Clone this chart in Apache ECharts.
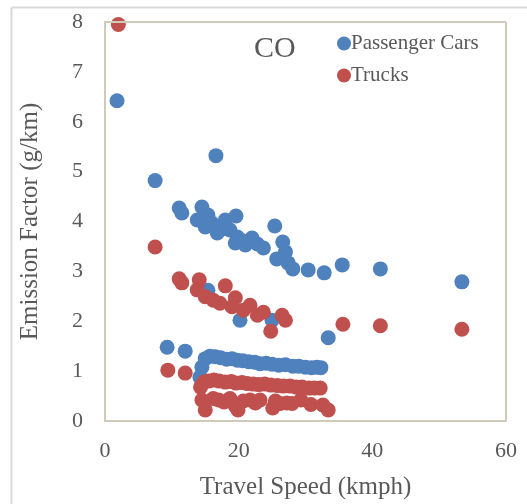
<!DOCTYPE html>
<html>
<head>
<meta charset="utf-8">
<script src="https://cdn.jsdelivr.net/npm/echarts@6/dist/echarts.min.js"></script>
<style>
  html, body { margin: 0; padding: 0; background: #fff; }
  #main { width: 527px; height: 504px; }
</style>
</head>
<body>
<div id="main"></div>
<script>
// axis ticks
var xTicks = [0, 20, 40, 60];
var yTicks = [0, 1, 2, 3, 4, 5, 6, 7, 8];

// Passenger Cars: [speed, emission factor]
var carsSpeed = [1.8, 7.5, 16.6, 11.1, 11.5, 14.5, 13.8, 15.4, 15.0, 16.0, 18.0, 19.6, 18.7, 16.8, 19.8,
  19.5, 21.0, 22.0, 23.7, 25.4, 26.6, 27.0, 25.7, 27.4, 28.1, 30.4, 32.8, 35.5, 41.2, 53.4,
  15.4, 20.2, 25.0, 33.4, 9.3, 12.0,
  14.2, 14.5, 15.0, 15.7, 16.5, 17.3, 18.2, 19.0, 19.8, 20.6, 21.5, 22.4, 23.2, 24.1, 25.0,
  26.0, 27.0, 28.1, 29.0, 30.0, 30.9, 31.7, 32.3,
  14.8, 17.5, 20.5, 22.8];
var carsEF = [6.42, 4.82, 5.32, 4.27, 4.17, 4.29, 4.03, 4.13, 3.89, 3.97, 4.03, 4.11, 3.83, 3.77, 3.69,
  3.57, 3.53, 3.67, 3.47, 3.91, 3.59, 3.39, 3.25, 3.17, 3.05, 3.03, 2.97, 3.13, 3.05, 2.79,
  2.62, 2.02, 2.02, 1.67, 1.48, 1.40,
  0.88, 1.08, 1.25, 1.30, 1.29, 1.27, 1.24, 1.25, 1.22, 1.21, 1.19, 1.18, 1.15, 1.16, 1.14,
  1.12, 1.13, 1.10, 1.10, 1.08, 1.07, 1.08, 1.07,
  4.05, 3.85, 3.62, 3.55];

// Trucks: [speed, emission factor]
var trucksSpeed = [2.0, 7.5, 35.6, 41.2, 53.4,
  11.1, 11.5, 14.1, 13.8, 18.0, 15.0, 16.2, 17.2, 19.5, 19.0, 21.7, 20.7, 23.7, 22.8, 26.5, 27.0, 24.8,
  9.4, 12.0,
  14.3, 14.8, 15.5, 16.3, 17.1, 18.0, 18.9, 19.6, 20.5, 21.3, 22.2, 23.0, 23.9, 24.8, 25.8,
  26.7, 27.7, 28.6, 29.5, 30.5, 31.3, 32.2,
  14.5, 15.0, 16.2, 17.0, 17.8, 18.7, 19.5, 19.9, 20.7, 21.7, 22.5, 23.2, 25.1, 25.5, 26.2,
  27.2, 28.0, 29.3, 30.8, 32.6, 33.4];
var trucksEF = [7.95, 3.49, 1.94, 1.91, 1.84,
  2.85, 2.77, 2.83, 2.63, 2.71, 2.49, 2.42, 2.36, 2.47, 2.29, 2.32, 2.22, 2.18, 2.12, 2.12, 2.02, 1.80,
  1.02, 0.96,
  0.68, 0.78, 0.80, 0.82, 0.80, 0.78, 0.79, 0.76, 0.77, 0.75, 0.74, 0.73, 0.74, 0.72, 0.71,
  0.70, 0.70, 0.68, 0.68, 0.66, 0.66, 0.66,
  0.42, 0.22, 0.45, 0.42, 0.38, 0.45, 0.30, 0.22, 0.40, 0.42, 0.36, 0.42, 0.26, 0.40, 0.35,
  0.36, 0.35, 0.42, 0.33, 0.32, 0.22];

function pairs(xs, ys) {
  return xs.map(function (x, i) { return [x, ys[i]]; });
}

var font = '"Liberation Serif", "Times New Roman", serif';
var frame = '#cfcbb8';
var txt = '#595959';
var W = 527, H = 504;
var grid = { left: 105, right: 21, top: 22, bottom: 83 };

var myChart = echarts.init(document.getElementById('main'));
myChart.setOption({
  animation: false,
  backgroundColor: '#fff',
  textStyle: { fontFamily: font },
  grid: { left: grid.left, right: grid.right, top: grid.top, bottom: grid.bottom, containLabel: false, outerBoundsMode: 'none' },
  title: {
    text: 'CO', left: 249, top: 29,
    textStyle: { fontFamily: font, fontSize: 30, fontWeight: 'normal', color: txt }
  },
  legend: {
    left: 332, top: 28, orient: 'vertical', itemGap: 11,
    icon: 'circle', itemWidth: 14, itemHeight: 14,
    textStyle: { fontFamily: font, fontSize: 21, color: txt, padding: [0, 0, 0, -5] },
    data: ['Passenger Cars', 'Trucks']
  },
  graphic: {
    elements: [
      // plot-area frame, top and right edges
      { type: 'line', silent: true, z: 100,
        shape: { x1: grid.left, y1: grid.top, x2: W - grid.right, y2: grid.top },
        style: { stroke: frame, lineWidth: 2 } },
      { type: 'line', silent: true, z: 100,
        shape: { x1: W - grid.right, y1: grid.top, x2: W - grid.right, y2: H - grid.bottom },
        style: { stroke: frame, lineWidth: 2 } },
      // outer chart-area border
      { type: 'line', silent: true, z: 100,
        shape: { x1: 11.5, y1: 7.5, x2: 600, y2: 7.5 },
        style: { stroke: '#d9d9d9', lineWidth: 2 } },
      { type: 'line', silent: true, z: 100,
        shape: { x1: 11.5, y1: 7.5, x2: 11.5, y2: 600 },
        style: { stroke: '#d9d9d9', lineWidth: 2 } }
    ]
  },
  xAxis: {
    type: 'value', min: 0, max: 60, interval: 20,
    name: 'Travel Speed (kmph)', nameLocation: 'middle', nameGap: 54,
    nameTextStyle: { fontFamily: font, fontSize: 25, color: txt },
    axisLine: { show: true, onZero: false, lineStyle: { color: frame, width: 2 } },
    axisTick: { show: false },
    splitLine: { show: false },
    axisLabel: { fontFamily: font, fontSize: 22, color: txt, margin: 19,
      formatter: function (v) { return xTicks.indexOf(v) >= 0 ? String(v) : ''; } }
  },
  yAxis: {
    type: 'value', min: 0, max: 8, interval: 1,
    name: 'Emission Factor (g/km)', nameLocation: 'middle', nameGap: 62,
    nameTextStyle: { fontFamily: font, fontSize: 25, color: txt },
    axisLine: { show: true, onZero: false, lineStyle: { color: frame, width: 2 } },
    axisTick: { show: false },
    splitLine: { show: false },
    axisLabel: { fontFamily: font, fontSize: 22, color: txt, margin: 22,
      formatter: function (v) { return yTicks.indexOf(v) >= 0 ? String(v) : ''; } }
  },
  series: [
    {
      name: 'Passenger Cars', type: 'scatter', symbolSize: 15,
      itemStyle: { color: '#4f81bd', opacity: 1 },
      data: pairs(carsSpeed, carsEF)
    },
    {
      name: 'Trucks', type: 'scatter', symbolSize: 15,
      itemStyle: { color: '#c0504d', opacity: 1 },
      data: pairs(trucksSpeed, trucksEF)
    }
  ]
});
</script>
</body>
</html>
